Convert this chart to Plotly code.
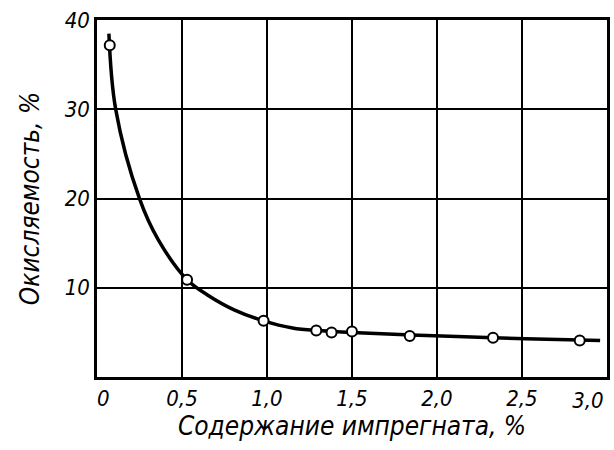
import plotly.graph_objects as go

# Measured points (impregnate content %, oxidizability %)
x_points = [0.075, 0.53, 0.98, 1.29, 1.38, 1.50, 1.84, 2.33, 2.84]
y_points = [37.2, 10.9, 6.3, 5.2, 5.0, 5.1, 4.6, 4.4, 4.1]

# Points
x_curve = [0.07, 0.11, 0.25, 0.36, 0.53, 0.65, 0.81, 0.98, 1.15, 1.30, 1.50, 1.85, 2.33, 2.84, 2.96]
y_curve = [38.5, 30.0, 20.0, 15.4, 10.9, 9.2, 7.5, 6.3, 5.5, 5.2, 5.0, 4.7, 4.4, 4.15, 4.1]

x_tickvals = [0, 0.5, 1.0, 1.5, 2.0, 2.5]
x_ticktext = ["\u00a0\u00a00", "0,5", "1,0", "1,5", "2,0", "2,5"]
x_end_tickvals = [3.0]
x_end_ticktext = ["3,0"]
y_tickvals = [10, 20, 30, 40]
y_ticktext = ["10", "20", "30", "40"]

FONT = "DejaVu Sans Condensed, Liberation Sans Narrow, DejaVu Sans, sans-serif"
X_RANGE = [0, 3.0005]

fig = go.Figure()
fig.add_trace(go.Scatter(
    x=x_curve, y=y_curve, mode="lines",
    line=dict(color="black", width=3.5, shape="spline", smoothing=1.0),
    hoverinfo="skip", showlegend=False))
fig.add_trace(go.Scatter(
    x=x_points, y=y_points, mode="markers",
    marker=dict(size=10, color="white", line=dict(color="black", width=2)),
    showlegend=False))
# empty helper trace so the end-label axis is drawn
fig.add_trace(go.Scatter(x=[None], y=[None], xaxis="x2", mode="markers",
                         showlegend=False, hoverinfo="skip"))

tickfont = dict(family=FONT, size=22, color="black", style="italic")
axis_common = dict(
    showgrid=True, gridcolor="black", gridwidth=1.5,
    showline=True, linecolor="black", linewidth=2.5, mirror=True,
    zeroline=False, ticks="", automargin=False,
    tickfont=tickfont,
)

fig.update_layout(
    width=614, height=450,
    margin=dict(l=97, r=7, t=20, b=73),
    paper_bgcolor="white", plot_bgcolor="white",
    xaxis=dict(range=X_RANGE, tickvals=x_tickvals, ticktext=x_ticktext,
               title=dict(text="Содержание импрегната, %", standoff=2,
                          font=dict(family=FONT, size=26, color="black", style="italic")),
               **axis_common),
    xaxis2=dict(range=X_RANGE, overlaying="x", side="bottom", anchor="y",
                tickvals=x_end_tickvals, ticktext=x_end_ticktext,
                ticklabelshift=-19, ticklabelstandoff=8, showgrid=False, showline=False,
                zeroline=False, ticks="", automargin=False, tickfont=tickfont),
    yaxis=dict(range=[0, 40.02], tickvals=y_tickvals, ticktext=y_ticktext,
               title=dict(text="Окисляемость, %", standoff=18,
                          font=dict(family=FONT, size=26, color="black", style="italic")),
               **axis_common),
)

fig.write_html("out.html")
